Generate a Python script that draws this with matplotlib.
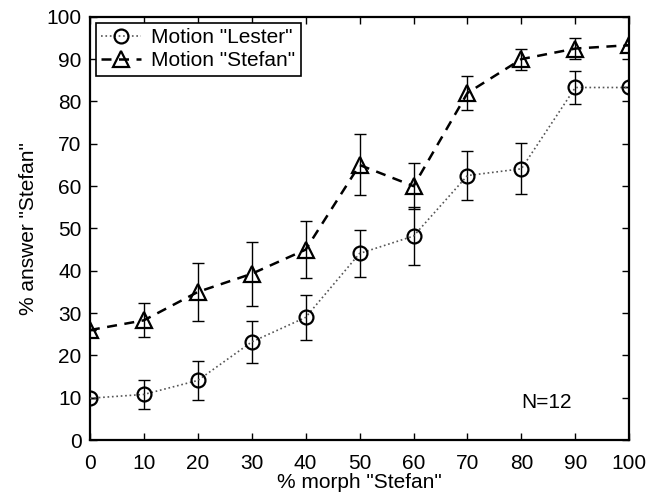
import matplotlib
matplotlib.use("Agg")
import matplotlib.pyplot as plt
import numpy as np

plt.rcParams['font.family'] = ['Liberation Sans', 'DejaVu Sans']

morph = [0, 10, 20, 30, 40, 50, 60, 70, 80, 90, 100]
lester = [9.9, 10.8, 14.1, 23.2, 29.0, 44.1, 48.2, 62.5, 64.1, 83.3, 83.3]
lester_err = [0.0, 3.5, 4.7, 5.0, 5.3, 5.5, 6.8, 5.8, 6.0, 4.0, 0.0]
stefan = [26.0, 28.3, 35.0, 39.3, 45.0, 65.0, 60.0, 82.0, 90.0, 92.5, 93.3]
stefan_err = [0.0, 4.0, 6.8, 7.5, 6.7, 7.2, 5.5, 4.0, 2.5, 2.5, 0.0]
ticks = [0, 10, 20, 30, 40, 50, 60, 70, 80, 90, 100]

fig = plt.figure(figsize=(6.61, 4.94), dpi=100)
ax = fig.add_axes([0.136, 0.109, 0.816, 0.857])

fs = 15

ax.errorbar(morph, lester, yerr=lester_err, fmt='none', ecolor='black',
            elinewidth=1.0, capsize=4, capthick=1.0, zorder=2)
ax.errorbar(morph, stefan, yerr=stefan_err, fmt='none', ecolor='black',
            elinewidth=1.0, capsize=4, capthick=1.0, zorder=2)

ax.plot(morph, lester, linestyle=':', color='#555555', linewidth=1.2,
        marker='o', markersize=10, markerfacecolor='none',
        markeredgecolor='black', markeredgewidth=1.6,
        label='Motion "Lester"', zorder=3)
ax.plot(morph, stefan, linestyle=(0, (4, 3)), color='black', linewidth=1.8,
        marker='^', markersize=12, markerfacecolor='none',
        markeredgecolor='black', markeredgewidth=1.6,
        label='Motion "Stefan"', zorder=3)

ax.set_xlim(0, 100)
ax.set_ylim(0, 100)
ax.set_xticks(ticks)
ax.set_yticks(ticks)
ax.tick_params(direction='in', top=True, right=True, length=5, width=1.0,
               labelsize=fs)
ax.tick_params(axis='x', pad=10)
ax.tick_params(axis='y', pad=6)
for sp in ax.spines.values():
    sp.set_linewidth(1.6)

ax.set_xlabel('% morph "Stefan"', fontsize=fs, labelpad=0)
ax.set_ylabel('% answer "Stefan"', fontsize=fs, labelpad=6)

ax.text(80, 9, 'N=12', fontsize=fs, ha='left', va='center')

leg = ax.legend(loc='upper left', fontsize=fs, frameon=True, fancybox=False,
                edgecolor='black', borderaxespad=0.3, handlelength=1.9,
                handletextpad=0.5, borderpad=0.25, labelspacing=0.2)
leg.get_frame().set_linewidth(1.2)
leg.get_frame().set_alpha(1)

fig.savefig('out.png', dpi=100)
